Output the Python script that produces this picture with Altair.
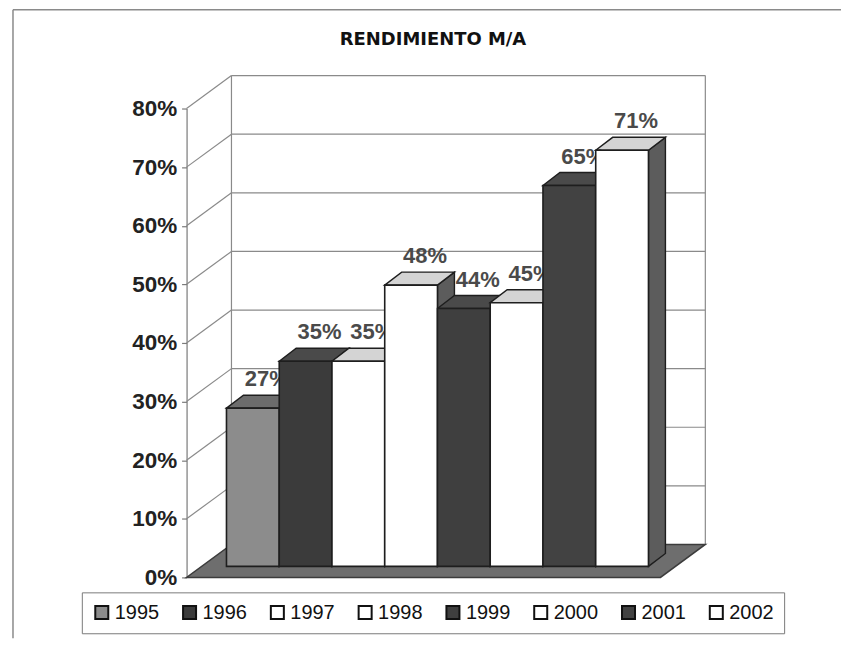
import altair as alt
import pandas as pd

# ---------------- data ----------------
years = ["1995", "1996", "1997", "1998", "1999", "2000", "2001", "2002"]
values = [0.27, 0.35, 0.35, 0.48, 0.44, 0.45, 0.65, 0.71]
ticks = [0.0, 0.1, 0.2, 0.3, 0.4, 0.5, 0.6, 0.7, 0.8]

# ---------------- styles ----------------
FRONT = {"1995": "#8c8c8c", "1996": "#3b3b3b", "1997": "#ffffff", "1998": "#ffffff",
         "1999": "#3f3f3f", "2000": "#ffffff", "2001": "#424242", "2002": "#ffffff"}
TOP = {"1995": "#6c6c6c", "1996": "#4a4a4a", "1997": "#d4d4d4", "1998": "#d4d4d4",
       "1999": "#4a4a4a", "2000": "#d4d4d4", "2001": "#4a4a4a", "2002": "#d4d4d4"}
SIDE = {"1995": "#555555", "1996": "#262626", "1997": "#5c5c5c", "1998": "#5c5c5c",
        "1999": "#262626", "2000": "#5c5c5c", "2001": "#262626", "2002": "#5c5c5c"}

W, H = 830, 630                 # plot area = chart frame (origin at page 13,9)
BAR_X0, BAR_W = 214, 52.875     # pixel start of first bar, pixels per bar
Y_ZERO, PX_PER_UNIT = 569, 587.5
AXIS_X = 174                    # front axis position
WALL_DX, WALL_DY = 45, 33       # depth of the 3D box
BAR_LIFT = 11                   # bars sit a little behind the front plane
DEPTH_DX, DEPTH_DY = 17, 13     # depth of each column

XS = alt.Scale(domain=[0, 8], range=[BAR_X0, BAR_X0 + 8 * BAR_W], nice=False, zero=False)
YS = alt.Scale(domain=[0, 0.8], range=[Y_ZERO, Y_ZERO - 0.8 * PX_PER_UNIT], nice=False, zero=False)
AX = alt.Axis(values=ticks, format=".0%", offset=-AXIS_X, tickSize=5, labelPadding=5,
              labelFont="Liberation Sans", labelFontSize=22.5, labelFontWeight="bold",
              labelColor="#222222", domainColor="#7a7a7a", domainWidth=1.2,
              tickColor="#7a7a7a", tickWidth=1.2, grid=False, title=None)


def px2u(px):
    return (px - BAR_X0) / BAR_W


dxu = DEPTH_DX / BAR_W
dyu = DEPTH_DY / PX_PER_UNIT
dyw = WALL_DY / PX_PER_UNIT

bars = pd.DataFrame({"year": years, "value": values, "idx": list(range(len(years)))})
bars["x2"] = bars["idx"] + 1
bars["xc"] = bars["idx"] + 0.5

top_rows, side_rows = [], []
for i, (y, v) in enumerate(zip(years, values)):
    for fx, lo, hi in [(i, v, v), (i + dxu, v, v + dyu), (i + 1, v, v + dyu), (i + 1 + dxu, v + dyu, v + dyu)]:
        top_rows.append({"year": y, "fx": fx, "lo": lo, "hi": hi, "fill": TOP[y]})
    for fx, lo, hi in [(i + 1, 0, v), (i + 1 + dxu, dyu, v + dyu)]:
        side_rows.append({"year": y, "fx": fx, "lo": lo, "hi": hi, "fill": SIDE[y]})
tops = pd.DataFrame(top_rows)
sides = pd.DataFrame(side_rows)

floor = pd.DataFrame({
    "fx": [px2u(AXIS_X), px2u(AXIS_X + WALL_DX), px2u(W - 181), px2u(W - 181 + WALL_DX)],
    "lo": [0, 0, 0, dyw],
    "hi": [0, dyw, dyw, dyw],
})
grid_df = pd.DataFrame({"tick": ticks[1:]})
one = pd.DataFrame({"a": [0]})

WALL = "#8a8a8a"

frame_top = alt.Chart(one).mark_rule(color=WALL, strokeWidth=1.5).encode(
    x=alt.value(0), x2=alt.value(W), y=alt.value(0))
frame_left = alt.Chart(one).mark_rule(color=WALL, strokeWidth=1.5).encode(
    x=alt.value(0), y=alt.value(0), y2=alt.value(H))

back_grid = alt.Chart(grid_df).mark_rule(color=WALL, strokeWidth=1.2, yOffset=-WALL_DY).encode(
    x=alt.value(AXIS_X + WALL_DX), x2=alt.value(W - 136),
    y=alt.Y("tick:Q", scale=YS, axis=AX))
diag = alt.Chart(grid_df).mark_rule(color=WALL, strokeWidth=1.2, y2Offset=-WALL_DY).encode(
    x=alt.value(AXIS_X), x2=alt.value(AXIS_X + WALL_DX),
    y=alt.Y("tick:Q", scale=YS, axis=AX), y2="tick:Q")
wall_left = alt.Chart(one).mark_rule(color=WALL, strokeWidth=1.2, yOffset=-WALL_DY,
                                     y2Offset=-WALL_DY).encode(
    x=alt.value(AXIS_X + WALL_DX), y=alt.Y(datum=0, scale=YS, axis=AX), y2=alt.datum(0.8))
wall_right = alt.Chart(one).mark_rule(color=WALL, strokeWidth=1.2, yOffset=-WALL_DY,
                                      y2Offset=-WALL_DY).encode(
    x=alt.value(W - 136), y=alt.Y(datum=0, scale=YS, axis=AX), y2=alt.datum(0.8))

floor_layer = alt.Chart(floor).mark_area(orient="vertical", color="#6e6e6e",
                                         stroke="#3c3c3c", strokeWidth=1.5).encode(
    x=alt.X("fx:Q", scale=XS, axis=None),
    y=alt.Y("lo:Q", scale=YS, axis=AX, stack=None),
    y2="hi:Q")

side_layer = alt.Chart(sides).mark_area(orient="vertical", stroke="#1e1e1e", strokeWidth=1.4,
                                        yOffset=-BAR_LIFT, y2Offset=-BAR_LIFT).encode(
    x=alt.X("fx:Q", scale=XS, axis=None),
    y=alt.Y("lo:Q", scale=YS, axis=AX, stack=None),
    y2="hi:Q",
    fill=alt.Fill("fill:N", scale=None),
    detail="year:N")

top_layer = alt.Chart(tops).mark_area(orient="vertical", stroke="#1e1e1e", strokeWidth=1.4,
                                      yOffset=-BAR_LIFT, y2Offset=-BAR_LIFT).encode(
    x=alt.X("fx:Q", scale=XS, axis=None),
    y=alt.Y("lo:Q", scale=YS, axis=AX, stack=None),
    y2="hi:Q",
    fill=alt.Fill("fill:N", scale=None),
    detail="year:N")

labels = alt.Chart(bars).mark_text(dx=14, dy=-33, baseline="alphabetic", align="center",
                                   font="Liberation Sans", fontSize=22, fontWeight="bold",
                                   color="#4a4a4a").encode(
    x=alt.X("xc:Q", scale=XS, axis=None),
    y=alt.Y("value:Q", scale=YS, axis=AX),
    text=alt.Text("value:Q", format=".0%"))

fronts = alt.Chart(bars).mark_rect(stroke="#1e1e1e", strokeWidth=1.6,
                                   yOffset=-BAR_LIFT, y2Offset=-BAR_LIFT).encode(
    x=alt.X("idx:Q", scale=XS, axis=None),
    x2="x2:Q",
    y=alt.Y("value:Q", scale=YS, axis=AX),
    y2=alt.datum(0),
    color=alt.Color("year:N",
                    scale=alt.Scale(domain=years, range=[FRONT[y] for y in years]),
                    legend=alt.Legend(orient="none", legendX=69, legendY=584,
                                      direction="horizontal", columns=8, title=None,
                                      symbolType="square", symbolSize=170,
                                      symbolStrokeColor="#111111", symbolStrokeWidth=2,
                                      labelFont="Liberation Sans", labelFontSize=20,
                                      labelColor="#111111", labelOffset=3,
                                      columnPadding=19, padding=10,
                                      strokeColor="#7a7a7a", fillColor="white")))

chart = alt.layer(
    frame_top, frame_left, back_grid, diag, wall_left, wall_right,
    floor_layer, side_layer, top_layer, labels, fronts
).properties(
    width=W, height=H,
    title=alt.TitleParams("RENDIMIENTO M/A", font="DejaVu Sans", fontSize=18,
                          fontWeight="bold", color="#111111", anchor="middle",
                          frame="group", baseline="alphabetic", offset=-54, dx=6),
    autosize=alt.AutoSizeParams(type="none"),
    padding={"left": 5, "top": 1, "right": 0, "bottom": 0},
    background="white",
).configure_view(stroke=None)

chart.save("out.html", embed_options={"renderer": "svg", "actions": False})
